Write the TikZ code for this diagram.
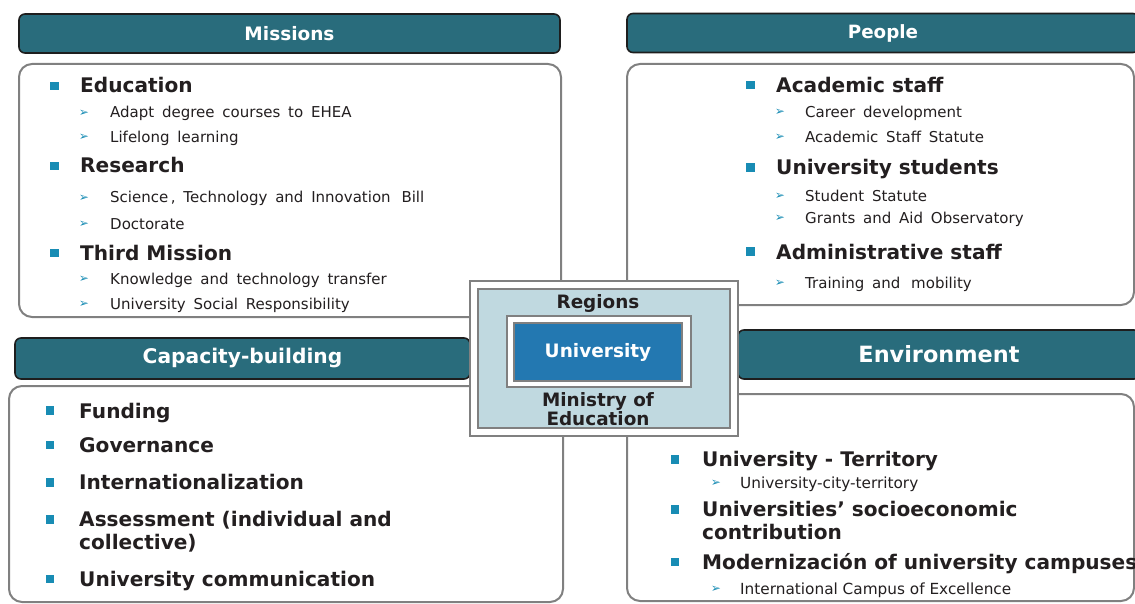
\documentclass[tikz,border=0pt]{standalone}
\usepackage{fontspec}
\setmainfont{DejaVu Sans}
\newcommand\widesp{\setlength{\spaceskip}{7.8pt plus 1pt minus 1pt}}
\definecolor{tealhdr}{RGB}{41,108,124}
\definecolor{hdrborder}{RGB}{30,30,30}
\definecolor{panelgray}{RGB}{128,128,128}
\definecolor{bulletblue}{RGB}{24,140,180}
\definecolor{unibox}{RGB}{35,120,177}
\definecolor{lightbluebox}{RGB}{192,217,224}
\definecolor{textdark}{RGB}{35,31,32}
\begin{document}
\begin{tikzpicture}[x=1pt,y=-1pt,
  hdr/.style={draw=hdrborder, line width=1.6pt, fill=tealhdr, rounded corners=6pt, text=white, inner sep=0},
  panel/.style={draw=panelgray, line width=2pt, fill=white, rounded corners=13pt},
  sq/.style={fill=bulletblue, minimum size=8.5pt, inner sep=0},
  arr/.style={text=bulletblue, font=\fontsize{12}{12}\selectfont, inner sep=0},
  mainitem/.style={anchor=base west, inner sep=0, text=textdark, font=\fontsize{20.1}{23}\selectfont\bfseries},
  subitem/.style={anchor=base west, inner sep=0, text=textdark, font=\fontsize{15}{17}\selectfont\widesp},
  envsub/.style={anchor=base west, inner sep=0, text=textdark, font=\fontsize{15.3}{17}\selectfont},
  frame/.style={draw=panelgray, line width=2pt},
  ctext/.style={text=textdark, font=\fontsize{18.4}{19}\selectfont\bfseries, inner sep=0, align=center}
]
\useasboundingbox (0,0) rectangle (1135,604);
\clip (0,0) rectangle (1135,604);

% ---------- panels ----------
\draw[panel] (19,64) rectangle (561,317);
\draw[panel] (627,64) rectangle (1134,305);
\draw[panel] (9,386) rectangle (563,602);
\draw[panel] (627,394) rectangle (1134,601);

% ---------- headers ----------
\node[hdr, minimum width=541pt, minimum height=39pt, font=\fontsize{18.5}{20}\selectfont\bfseries] (hm) at (289.5,33.5) {Missions};
\node[hdr, minimum width=512pt, minimum height=39pt, font=\fontsize{18.3}{20}\selectfont\bfseries] (hp) at (883,33) {People};
\node[hdr, minimum width=455pt, minimum height=41pt, font=\fontsize{20.2}{22}\selectfont\bfseries] (hc) at (242.5,358.5) {Capacity-building};
\node[hdr, minimum width=402pt, minimum height=49pt, font=\fontsize{22.4}{25}\selectfont\bfseries] (he) at (939,354.5) {Environment};

% ---------- Missions ----------
\node[sq] (m1b) at (54.5,86) {};
\node[mainitem] (m1) at (80,93) {Education};
\node[arr] (m1ab) at (84,113) {➢};
\node[subitem] (m1a) at (110,118) {Adapt degree courses to EHEA};
\node[arr] (m1bb) at (84,137.5) {➢};
\node[subitem] (m1c) at (110,142.5) {Lifelong learning};
\node[sq] (m2b) at (54.5,166) {};
\node[mainitem] (m2) at (80,173) {Research};
\node[arr] (m2ab) at (84,198) {➢};
\node[subitem] (m2a) at (110,203) {Science\,, Technology and Innovation\hspace{3pt} Bill};
\node[arr] (m2bb) at (84,224.5) {➢};
\node[subitem] (m2c) at (110,229.5) {Doctorate};
\node[sq] (m3b) at (54.5,253) {};
\node[mainitem] (m3) at (80,260) {Third Mission};
\node[arr] (m3ab) at (84,279.5) {➢};
\node[subitem] (m3a) at (110,284.5) {Knowledge and technology transfer};
\node[arr] (m3bb) at (84,304.5) {➢};
\node[subitem] (m3c) at (110,309.5) {University Social Responsibility};

% ---------- People ----------
\node[sq] (p1b) at (750.5,85) {};
\node[mainitem] (p1) at (776,92.5) {Academic staff};
\node[arr] (p1ab) at (780,112) {➢};
\node[subitem] (p1a) at (805,117.5) {Career development};
\node[arr] (p1bb) at (780,137) {➢};
\node[subitem] (p1c) at (805,142.5) {Academic Staff Statute};
\node[sq] (p2b) at (750.5,167.5) {};
\node[mainitem] (p2) at (776,175) {University students};
\node[arr] (p2ab) at (780,196.5) {➢};
\node[subitem] (p2a) at (805,201.5) {Student Statute};
\node[arr] (p2bb) at (780,218.5) {➢};
\node[subitem] (p2c) at (805,224) {Grants and Aid Observatory};
\node[sq] (p3b) at (750.5,251.5) {};
\node[mainitem] (p3) at (776,259) {Administrative staff};
\node[arr] (p3ab) at (780,283) {➢};
\node[subitem] (p3a) at (805,288.5) {Training and\hspace{3pt} mobility};

% ---------- Capacity-building ----------
\node[sq] (c1b) at (50,410.5) {};
\node[mainitem] (c1) at (79,418) {Funding};
\node[sq] (c2b) at (50,445) {};
\node[mainitem] (c2) at (79,452) {Governance};
\node[sq] (c3b) at (50,482.5) {};
\node[mainitem] (c3) at (79,489) {Internationalization};
\node[sq] (c4b) at (50,519.5) {};
\node[mainitem] (c4) at (79,526.5) {Assessment (individual and};
\node[mainitem] (c4c) at (79,549.5) {collective)};
\node[sq] (c5b) at (50,579) {};
\node[mainitem] (c5) at (79,586) {University communication};

% ---------- Environment ----------
\node[sq] (e1b) at (675,459.5) {};
\node[mainitem] (e1) at (702,466.5) {University - Territory};
\node[arr] (e1ab) at (716,483) {➢};
\node[envsub] (e1a) at (740,488.5) {University-city-territory};
\node[sq] (e2b) at (675,509.5) {};
\node[mainitem] (e2) at (702,516.5) {Universities’ socioeconomic};
\node[mainitem] (e2c) at (702,539.5) {contribution};
\node[sq] (e3b) at (675,562) {};
\node[mainitem] (e3) at (702,569) {Modernización of university campuses};
\node[arr] (e3ab) at (716,589) {➢};
\node[envsub] (e3a) at (740,594) {International Campus of Excellence};

% ---------- centre ----------
\draw[frame, fill=white] (470,281) rectangle (738,436);
\draw[frame, fill=lightbluebox] (478,289) rectangle (730,428);
\draw[frame, fill=white] (507,316) rectangle (691,387);
\node[draw=panelgray, line width=2pt, fill=unibox, minimum width=168pt, minimum height=58pt, inner sep=0, text=white, font=\fontsize{18.5}{20}\selectfont\bfseries] (uni) at (598,352) {University};
\node[ctext] (reg) at (598,303) {Regions};
\node[ctext] (min) at (598,409.5) {Ministry of\\Education};
\end{tikzpicture}
\end{document}
